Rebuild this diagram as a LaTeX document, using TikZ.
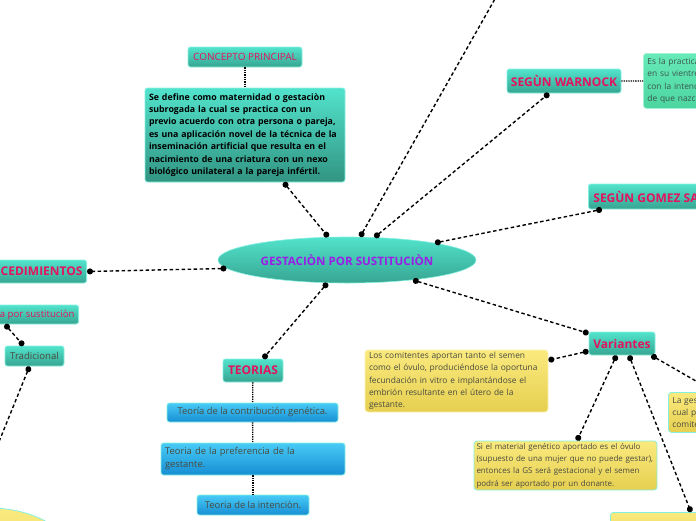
\documentclass[tikz,border=0pt]{standalone}
\usepackage{fontspec}
\setmainfont{Open Sans}
\usetikzlibrary{arrows.meta, shapes.geometric}
\definecolor{tealtop}{HTML}{52E3CC}
\definecolor{tealbot}{HTML}{37A591}
\definecolor{tealedge}{HTML}{86F0E0}
\definecolor{headred}{HTML}{E3135F}
\definecolor{titlepurple}{HTML}{9A1FE6}
\definecolor{bluetop}{HTML}{48CBF6}
\definecolor{bluebot}{HTML}{168ED4}
\definecolor{yellowtop}{HTML}{FAEA7E}
\definecolor{yellowbot}{HTML}{E6CF50}
\definecolor{greentop}{HTML}{66EAB8}
\definecolor{greenbot}{HTML}{4CD5A0}
\definecolor{greyink}{HTML}{4A4A40}
\tikzstyle{centre}=[ellipse, draw=tealedge, line width=0.6pt, top color=tealtop, bottom color=tealbot, minimum width=258pt, minimum height=46pt, inner sep=0pt, text=titlepurple, font=\bfseries\fontsize{11.6}{13}\selectfont]
\tikzstyle{topic}=[draw=tealedge, line width=0.8pt, rounded corners=2.5pt, top color=tealtop, bottom color=tealbot, inner sep=0pt, text=headred, font=\bfseries\fontsize{12}{14}\selectfont]
\tikzstyle{tag}=[topic, font=\fontsize{10}{12}\selectfont]
\tikzstyle{plain}=[topic, text=greyink, font=\fontsize{9.6}{11}\selectfont]
\tikzstyle{theory}=[draw=tealedge, line width=0.8pt, rounded corners=2.5pt, top color=bluetop, bottom color=bluebot, inner sep=0pt, text=greyink, font=\fontsize{9.4}{13}\selectfont]
\tikzstyle{note}=[draw=tealedge, line width=0.8pt, rounded corners=3pt, top color=yellowtop, bottom color=yellowbot, inner sep=0pt, inner xsep=4pt, align=left, text=greyink, font=\fontsize{8.4}{12.3}\selectfont]
\tikzstyle{link}=[line width=1.4pt, dash pattern=on 3.5pt off 2.5pt, {Circle[length=6pt]}-{Circle[length=6pt]}]
\tikzstyle{chain}=[line width=1.3pt, densely dotted]

\begin{document}
\begin{tikzpicture}[x=1pt, y=-1pt]
    \clip (0,0) rectangle (696,520);
    \node[centre] (main) at (347,260) {GESTACIÒN POR SUSTITUCIÒN};
    \node[tag, minimum width=114pt, minimum height=20pt] (concept) at (245,57) {CONCEPTO PRINCIPAL};
    \node[topic, top color=tealtop, bottom color=tealbot!90!black, minimum width=200pt, minimum height=94pt, text width=192pt, inner xsep=4pt, align=left, text=black, font=\bfseries\fontsize{8.8}{12.4}\selectfont] (define) at (245,135) {Se define como maternidad o gestaciòn\\subrogada la cual se practica con un\\previo acuerdo con otra persona o pareja,\\es una aplicación novel de la técnica de la\\inseminación artificial que resulta en el\\nacimiento de una criatura con un nexo\\biológico unilateral a la pareja infértil.};
    \coordinate (upper) at (500,-10);
    \node[topic, minimum width=114pt, minimum height=24pt] (warnock) at (564,81) {SEGÙN WARNOCK};
    \node[note, draw=greentop!60!white, top color=greentop, bottom color=greenbot, anchor=north west, minimum width=130pt, minimum height=55pt, text width=122pt, text=greyink!80!teal] (warnocktext) at (643,53) {Es la practica de una mujer\\en su vientre un embrión\\con la intención\\de que nazca};
    \node[topic, anchor=west, minimum height=25pt, inner xsep=5pt] (gomez) at (588,196.5) {SEGÙN GOMEZ SANCHEZ};
    \node[topic, anchor=east, minimum height=23pt, inner xsep=4pt] (proced) at (87,271.5) {PROCEDIMIENTOS};
    \node[tag, font=\fontsize{9.6}{11}\selectfont, anchor=east, minimum height=19pt, inner xsep=4pt] (subst) at (79,314.5) {Maternidad subrogada por sustituciòn};
    \node[plain, minimum width=59pt, minimum height=20pt] (trad) at (34.5,356) {Tradicional};
    \coordinate (tradend) at (-6,454);
    \node[note, ellipse, draw=tealedge, minimum width=180pt, minimum height=124pt] (lowleft) at (-10,570) {};
    \node[topic, minimum width=60pt, minimum height=23pt] (teorias) at (253,370.5) {TEORIAS};
    \node[theory, minimum width=171pt, minimum height=19pt] (t1) at (252.5,412.5) {Teoría de la contribución genética.};
    \node[theory, minimum width=184pt, minimum height=32pt, text width=176pt, inner xsep=4pt, align=left] (t2) at (253,459) {Teoria de la preferencia de la\\gestante.};
    \node[theory, minimum width=112pt, minimum height=20pt] (t3) at (253,505) {Teoria de la intenciòn.};
    \node[topic, minimum width=66pt, minimum height=23pt] (variantes) at (622,343.5) {Variantes};
    \node[note, draw=yellowtop!60!white, minimum width=183pt, minimum height=62pt, text width=175pt] (v1) at (456.5,381) {Los comitentes aportan tanto el semen\\como el óvulo, produciéndose la oportuna\\fecundación in vitro e implantándose el\\embrión resultante en el útero de la\\gestante.};
    \node[note, minimum width=183pt, minimum height=49pt, text width=178pt, inner xsep=2.5pt, font=\fontsize{8}{12.3}\selectfont] (v2) at (565.5,465.5) {Si el material genético aportado es el óvulo\\(supuesto de una mujer que no puede gestar),\\entonces la GS será gestacional y el semen\\podrá ser aportado por un donante.};
    \node[note, anchor=north west, minimum width=200pt, minimum height=40pt, text width=192pt] (v3) at (610,512) {La pareja comitente (};
    \node[note, anchor=north west, minimum width=150pt, minimum height=40pt, text width=142pt] (v4) at (668,392) {La gestante aporta el\\cual participa el semen\\comitente};
    \draw[chain] (concept) -- (define);
    \draw[link] (define) -- (main);
    \draw[link, {Circle[length=6pt]}-] (main) -- (upper);
    \draw[link] (main) -- (warnock);
    \draw[chain] (warnock) -- (warnocktext);
    \draw[link] (main.11) -- ([xshift=14pt]gomez.south west);
    \draw[link] (main.184) -- (proced.east);
    \draw[link] ([xshift=-74pt]subst.south east) -- ([xshift=-11pt]trad.north);
    \draw[link, {Circle[length=6pt]}-] ([xshift=-5pt]trad.south) -- (tradend);
    \draw[link] (main) -- (teorias);
    \draw[chain] (teorias) -- (t1);
    \draw[chain] (t1) -- (t2);
    \draw[chain] (t2) -- (t3);
    \draw[link] (main) -- (variantes);
    \draw[link] (variantes) -- (v1);
    \draw[link] (variantes) -- (v2);
    \draw[link] ([xshift=7pt]variantes.south) -- ([xshift=81pt]v3.north west);
    \draw[link] ([xshift=-4pt]variantes.south east) -- ([xshift=47pt]v4.north west);
\end{tikzpicture}
\end{document}
